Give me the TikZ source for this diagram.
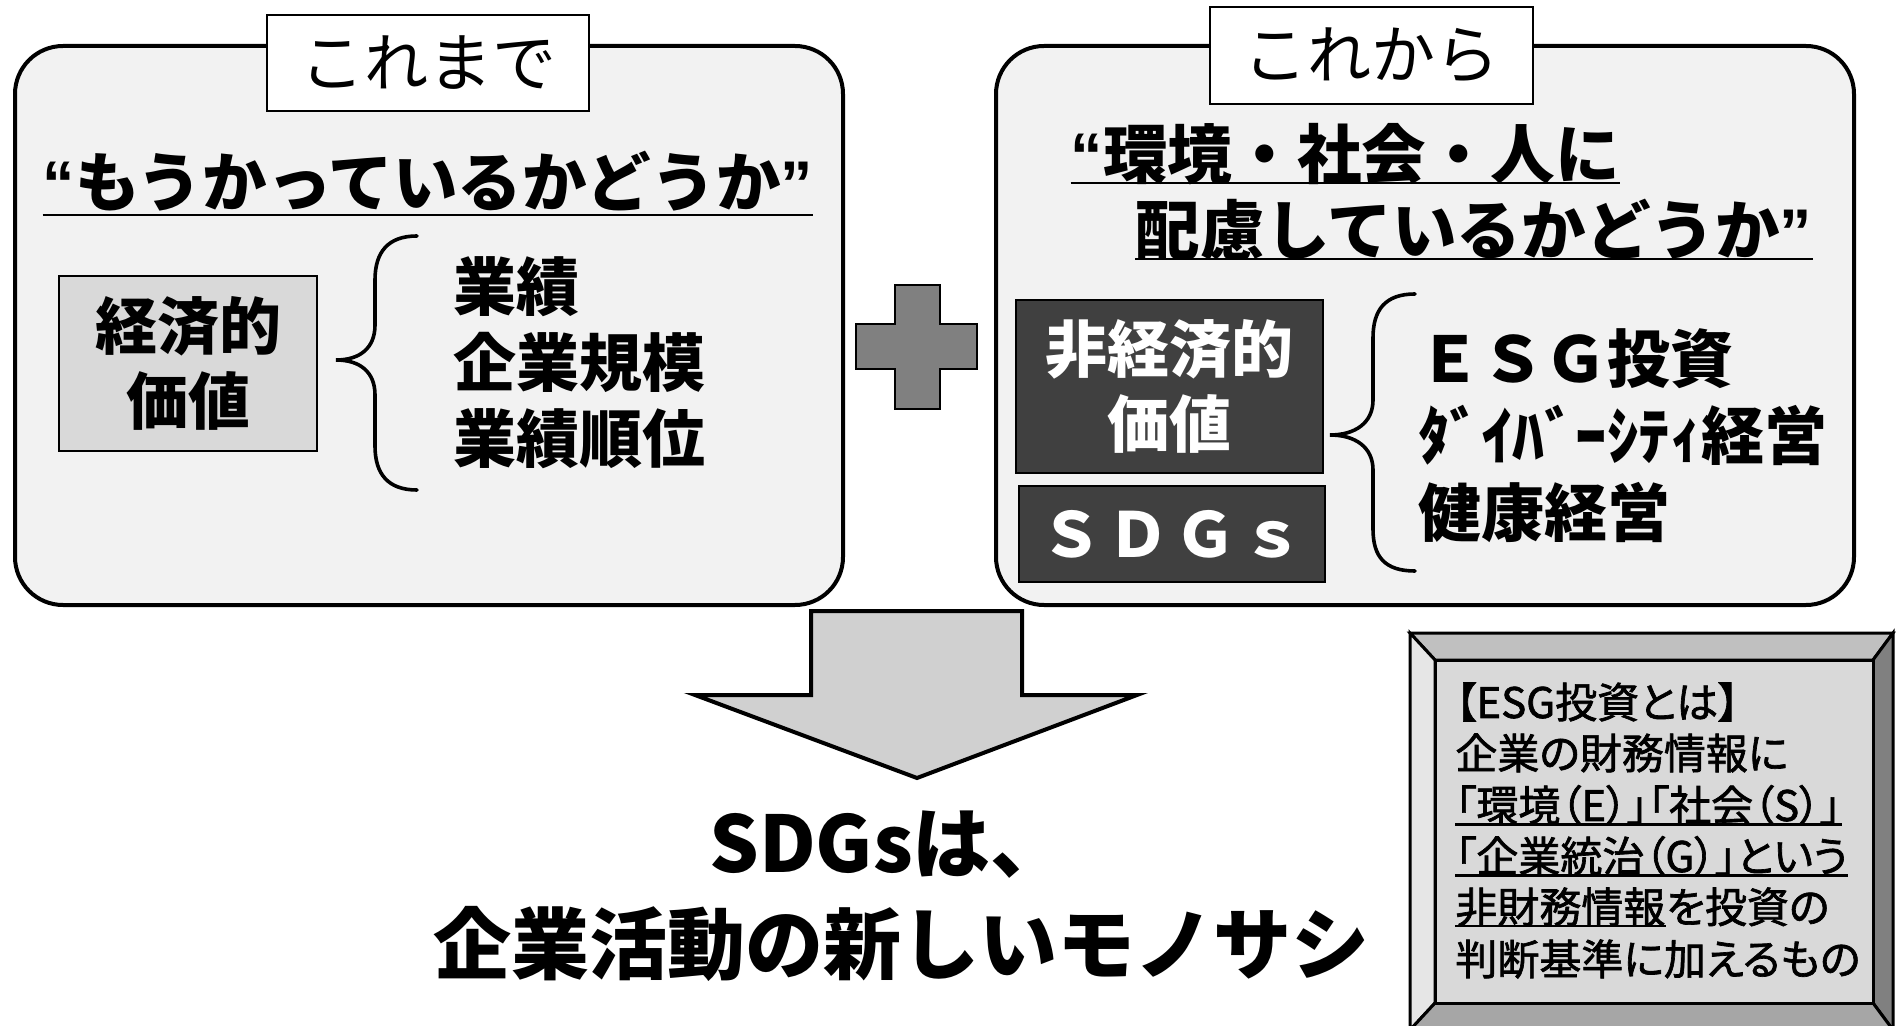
\documentclass[tikz,border=0pt]{standalone}
\usepackage{fontspec}
\setmainfont{Noto Sans CJK JP}
\newfontfamily\jpp[RawFeature=+palt, FakeBold=1.6]{Noto Sans CJK JP}
\newfontfamily\latinq{Liberation Sans}
\definecolor{panelfill}{HTML}{F2F2F2}
\definecolor{lightbox}{HTML}{D9D9D9}
\definecolor{darkbox}{HTML}{404040}
\definecolor{arrowfill}{HTML}{D0D0D0}
\definecolor{plusfill}{HTML}{808080}
\definecolor{bevtop}{HTML}{C0C0C0}
\definecolor{bevleft}{HTML}{E6E6E6}
\definecolor{bevright}{HTML}{808080}
\definecolor{bevbottom}{HTML}{A6A6A6}
\tikzset{
 panel/.style={draw=black, line width=2pt, fill=panelfill, rounded corners=24pt, inner sep=0pt},
 tagbox/.style={draw=black, line width=0.8pt, fill=white, inner sep=0pt, font=\fontsize{32pt}{36pt}\selectfont},
 hdr/.style={inner sep=0pt, font=\bfseries\fontsize{32.3pt}{38pt}\selectfont},
 valbox/.style={draw=black, line width=0.8pt, inner sep=0pt, align=center, font=\bfseries\fontsize{31pt}{37.5pt}\selectfont},
 items/.style={inner sep=0pt, align=left, anchor=west, font=\bfseries\fontsize{31.5pt}{38pt}\selectfont},
 uline/.style={line width=1.1pt},
 bracepath/.style={line width=1.8pt, line cap=round},
 big/.style={inner sep=0pt, font=\bfseries\fontsize{39pt}{45pt}\selectfont},
 esgline/.style={inner sep=0pt, anchor=west, font=\jpp\fontsize{21pt}{25pt}\selectfont},
 blockshape/.style={draw=black, line width=2pt, line join=miter},
 bevel/.style={draw=black, line width=1.5pt, line join=miter},
}
\newcommand{\openq}{{\latinq\bfseries “}}
\newcommand{\closeq}{{\latinq\bfseries ”}}
\begin{document}
\begin{tikzpicture}[x=0.5pt, y=-0.5pt]
\useasboundingbox (0,0) rectangle (1896,1026);
\fill[white] (0,0) rectangle (1896,1026);

% panels
\node[panel, minimum width=414pt, minimum height=279.5pt] (leftpanel) at (429,325.5) {};
\node[panel, minimum width=429pt, minimum height=279.5pt] (rightpanel) at (1425,325.5) {};

% tags
\node[tagbox, minimum width=161pt, minimum height=48pt] (tagL) at (428,63) {これまで};
\node[tagbox, minimum width=161.5pt, minimum height=48.5pt] (tagR) at (1371.5,55.5) {これから};

% left header
\node[hdr] (hL) at (428,181) {\openq もうかっているかどうか\closeq};
\draw[uline] (hL.west |- 0,215) -- (hL.east |- 0,215);

% right header
\node[hdr] (hR1) at (1345.5,154) {\openq 環境・社会・人に};
\draw[uline] (hR1.west |- 0,183) -- (hR1.east |- 0,183);
\node[hdr] (hR2) at (1474,230) {配慮しているかどうか\closeq};
\draw[uline] (hR2.west |- 0,259) -- (hR2.east |- 0,259);

% left value box
\node[valbox, fill=lightbox, minimum width=129pt, minimum height=87.5pt] (econ) at (188,363.5) {経済的\\価値};
\draw[bracepath] (417,236) .. controls (388,236) and (375,252) .. (375,280) -- (375,325) .. controls (375,348) and (360,360) .. (336,360) .. controls (360,360) and (375,372) .. (375,395) -- (375,446) .. controls (375,474) and (388,490) .. (417,490);
\node[items] (itemsL) at (453,363) {業績\\企業規模\\業績順位};

% plus sign
\draw[fill=plusfill, line width=1pt, line join=miter] (895,285) -- (940,285) -- (940,324) -- (977,324) -- (977,369) -- (940,369) -- (940,409) -- (895,409) -- (895,369) -- (856,369) -- (856,324) -- (895,324) -- cycle;

% right value boxes
\node[valbox, fill=darkbox, text=white, minimum width=153.5pt, minimum height=86.5pt] (nonecon) at (1169.5,386.5) {非経済的\\価値};
\node[valbox, fill=darkbox, text=white, minimum width=153pt, minimum height=48pt] (sdgsbox) at (1172,534) {Ｓ\hspace{2.5pt}Ｄ\hspace{2.5pt}Ｇ\hspace{2.5pt}ｓ};
\draw[bracepath] (1415,294) .. controls (1385,294) and (1373,310) .. (1373,338) -- (1373,400) .. controls (1373,423) and (1355,435) .. (1330,435) .. controls (1355,435) and (1373,447) .. (1373,470) -- (1373,529) .. controls (1373,557) and (1385,571) .. (1415,571);
\node[items, font=\bfseries\fontsize{31.5pt}{38.5pt}\selectfont] (itemsR) at (1418,436) {ＥＳＧ投資\\ﾀﾞｲﾊﾞｰｼﾃｨ経営\\健康経営};

% down arrow
\draw[blockshape, fill=arrowfill] (811,611) -- (1022,611) -- (1022,695) -- (1137,695) -- (917,778) -- (695,695) -- (811,695) -- cycle;

% conclusion
\node[big] (concl1) at (889,845) {SDGsは、};
\node[big] (concl2) at (901,944) {企業活動の新しいモノサシ};

% ESG bevel box
\draw[bevel, fill=bevtop] (1410,633) -- (1893,633) -- (1873,660) -- (1435,660) -- cycle;
\draw[bevel, fill=bevleft] (1410,633) -- (1435,660) -- (1435,1003) -- (1410,1030) -- cycle;
\draw[bevel, fill=bevright] (1893,633) -- (1893,1030) -- (1873,1003) -- (1873,660) -- cycle;
\draw[bevel, fill=bevbottom] (1410,1030) -- (1435,1003) -- (1873,1003) -- (1893,1030) -- cycle;
\draw[bevel, fill=lightbox] (1435,660) rectangle (1873,1003);

\node[esgline] (e1) at (1455,702) {【ESG投資とは】};
\node[esgline] (e2) at (1455,753) {企業の財務情報に};
\node[esgline] (e3) at (1455,805) {「環境（E）」「社会（S）」};
\draw[uline] ([yshift=-1.8pt]e3.base west) -- ([yshift=-1.8pt]e3.base east);
\node[esgline] (e4) at (1455,856) {「企業統治（G）」という};
\draw[uline] ([yshift=-1.8pt]e4.base west) -- ([yshift=-1.8pt]e4.base east);
\node[esgline] (e5a) at (1455,907) {非財務情報};
\node[esgline, anchor=base west] (e5b) at (e5a.base east) {を投資の};
\draw[uline] ([yshift=-1.8pt]e5a.base west) -- ([yshift=-1.8pt]e5a.base east);
\node[esgline] (e6) at (1455,959) {判断基準に加えるもの};
\end{tikzpicture}
\end{document}
